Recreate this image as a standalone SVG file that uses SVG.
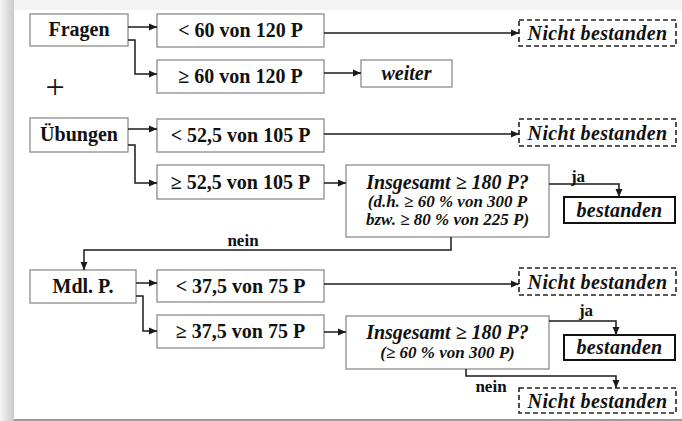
<svg xmlns="http://www.w3.org/2000/svg" width="682" height="421" viewBox="0 0 682 421">
<style>
.box{fill:#fff;stroke:#8c8c8c;stroke-width:1.3}
.ok{fill:#fff;stroke:#111;stroke-width:2}
.nb{fill:#fff;stroke:#222;stroke-width:1.6;stroke-dasharray:5,3}
.t{font-weight:bold;font-size:20px;fill:#111}
.i{font-style:italic}
.s{font-size:17px}
.l{font-weight:bold;font-size:17px;fill:#111}
.c{fill:none;stroke:#1a1a1a;stroke-width:1.5}
.a{marker-end:url(#ah)}
</style>
<defs>
<linearGradient id="lsh" x1="0" y1="0" x2="1" y2="0">
<stop offset="0" stop-color="#f6f6f6"/>
<stop offset="1" stop-color="#c9c9c9"/>
</linearGradient>
<marker id="ah" markerUnits="userSpaceOnUse" markerWidth="9" markerHeight="8" refX="8" refY="4" orient="auto">
<path d="M0,0.5 L8,4 L0,7.5 Z" fill="#1a1a1a"/>
</marker>
</defs>
<rect x="0" y="0" width="682" height="421" fill="#f3f3f3"/>
<rect x="0" y="0" width="14" height="421" fill="url(#lsh)"/>
<rect x="14" y="10" width="668" height="409" fill="#fff"/>
<rect x="14" y="419" width="668" height="2" fill="#999"/>

<g id="fragen"><rect class="box" x="30" y="14" width="98" height="32"/><text class="t" style="font-family:'Liberation Serif'" text-anchor="middle" x="79" y="36">Fragen</text></g>
<g id="f_lt"><rect class="box" x="157" y="14" width="167" height="33"/><text class="t" style="font-family:'Liberation Serif'" text-anchor="middle" x="240.5" y="37">&lt; 60 von 120 P</text></g>
<g id="f_ge"><rect class="box" x="157" y="60" width="167" height="33"/><text class="t" style="font-family:'Liberation Serif'" text-anchor="middle" x="240.5" y="83">≥ 60 von 120 P</text></g>
<g id="nb1"><rect class="nb" x="519" y="20" width="157" height="26"/><text class="t i" style="font-family:'Liberation Serif'" text-anchor="middle" x="597.5" y="40" letter-spacing="0.4">Nicht bestanden</text></g>
<g id="weiter"><rect class="box" x="361" y="60" width="91" height="27"/><text class="t i" style="font-family:'Liberation Serif'" text-anchor="middle" x="406.5" y="80">weiter</text></g>
<g id="plus"><text style="font-family:'Liberation Serif';font-size:34px;fill:#111" text-anchor="middle" x="55" y="98">+</text></g>

<g id="uebungen"><rect class="box" x="30" y="118" width="98" height="34"/><text class="t" style="font-family:'Liberation Serif'" text-anchor="middle" x="79" y="141">Übungen</text></g>
<g id="u_lt"><rect class="box" x="157" y="119" width="167" height="33"/><text class="t" style="font-family:'Liberation Serif'" text-anchor="middle" x="240.5" y="142">&lt; 52,5 von 105 P</text></g>
<g id="u_ge"><rect class="box" x="157" y="165" width="167" height="34"/><text class="t" style="font-family:'Liberation Serif'" text-anchor="middle" x="240.5" y="189">≥ 52,5 von 105 P</text></g>
<g id="nb2"><rect class="nb" x="519" y="119" width="157" height="27"/><text class="t i" style="font-family:'Liberation Serif'" text-anchor="middle" x="597.5" y="140" letter-spacing="0.4">Nicht bestanden</text></g>
<g id="ins1"><rect class="box" x="346" y="165" width="203" height="72"/>
<text class="t i" style="font-family:'Liberation Serif'" text-anchor="middle" x="447.5" y="189">Insgesamt ≥ 180 P?</text>
<text class="t i s" style="font-family:'Liberation Serif'" text-anchor="middle" x="447.5" y="207">(d.h. ≥ 60 % von 300 P</text>
<text class="t i s" style="font-family:'Liberation Serif'" text-anchor="middle" x="447.5" y="225">bzw. ≥ 80 % von 225 P)</text></g>
<g id="ok1"><rect class="ok" x="564" y="197" width="111" height="26"/><text class="t i" style="font-family:'Liberation Serif'" text-anchor="middle" x="619.5" y="217" letter-spacing="0.3">bestanden</text></g>

<g id="mdl"><rect class="box" x="30" y="270" width="106" height="33"/><text class="t" style="font-family:'Liberation Serif'" text-anchor="middle" x="83" y="293">Mdl. P.</text></g>
<g id="m_lt"><rect class="box" x="157" y="270" width="167" height="32"/><text class="t" style="font-family:'Liberation Serif'" text-anchor="middle" x="240.5" y="293">&lt; 37,5 von 75 P</text></g>
<g id="m_ge"><rect class="box" x="157" y="315" width="167" height="33"/><text class="t" style="font-family:'Liberation Serif'" text-anchor="middle" x="240.5" y="338">≥ 37,5 von 75 P</text></g>
<g id="nb3"><rect class="nb" x="519" y="268" width="157" height="27"/><text class="t i" style="font-family:'Liberation Serif'" text-anchor="middle" x="597.5" y="289" letter-spacing="0.4">Nicht bestanden</text></g>
<g id="ins2"><rect class="box" x="346" y="316" width="203" height="53"/>
<text class="t i" style="font-family:'Liberation Serif'" text-anchor="middle" x="447.5" y="339">Insgesamt ≥ 180 P?</text>
<text class="t i s" style="font-family:'Liberation Serif'" text-anchor="middle" x="447.5" y="358">(≥ 60 % von 300 P)</text></g>
<g id="ok2"><rect class="ok" x="564" y="335" width="111" height="25"/><text class="t i" style="font-family:'Liberation Serif'" text-anchor="middle" x="619.5" y="354" letter-spacing="0.3">bestanden</text></g>
<g id="nb4"><rect class="nb" x="519" y="388" width="157" height="25"/><text class="t i" style="font-family:'Liberation Serif'" text-anchor="middle" x="597.5" y="408" letter-spacing="0.4">Nicht bestanden</text></g>

<g id="connectors">
<path class="c a" d="M128,27 H157"/>
<path class="c a" d="M128,40 H135 V74 H157"/>
<path class="c a" d="M324,33 H519"/>
<path class="c a" d="M324,73 H361"/>
<path class="c a" d="M128,129 H157"/>
<path class="c a" d="M128,145 H135 V183 H157"/>
<path class="c a" d="M324,134 H519"/>
<path class="c a" d="M324,183 H346"/>
<path class="c a" d="M549,184 H619 V197"/>
<path class="c a" d="M451,237 V250 H84 V270"/>
<path class="c a" d="M136,283 H157"/>
<path class="c a" d="M136,296 H143 V331 H157"/>
<path class="c a" d="M324,284 H519"/>
<path class="c a" d="M324,332 H346"/>
<path class="c a" d="M549,321 H616 V335"/>
<path class="c a" d="M466,369 V376 H616 V388"/>
<text class="l" style="font-family:'Liberation Serif'" text-anchor="middle" x="578" y="182">ja</text>
<text class="l" style="font-family:'Liberation Serif'" text-anchor="middle" x="243" y="246">nein</text>
<text class="l" style="font-family:'Liberation Serif'" text-anchor="middle" x="586" y="316">ja</text>
<text class="l" style="font-family:'Liberation Serif'" text-anchor="middle" x="491" y="392">nein</text>
</g>
</svg>
